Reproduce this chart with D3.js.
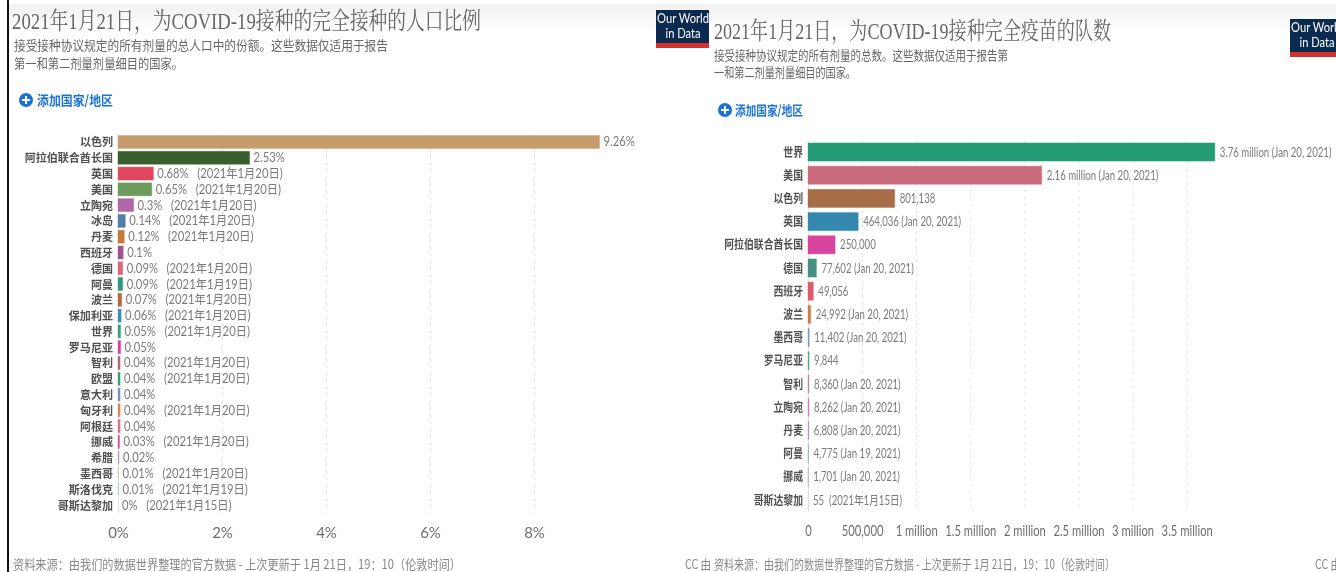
<!DOCTYPE html>
<html><head><meta charset="utf-8">
<script src="https://cdn.jsdelivr.net/npm/d3@7"></script>
<style>
html,body{margin:0;padding:0;background:#fff;overflow:hidden}
svg{display:block;filter:blur(0.45px)}
text{font-family:Lato,"Noto Sans CJK SC",sans-serif;white-space:pre}
</style></head><body>
<svg id="c" width="1336" height="572"></svg>
<script>
const shareNames=["以色列","阿拉伯联合酋长国","英国","美国","立陶宛","冰岛","丹麦","西班牙","德国","阿曼","波兰","保加利亚","世界","罗马尼亚","智利","欧盟","意大利","匈牙利","阿根廷","挪威","希腊","墨西哥","斯洛伐克","哥斯达黎加"];
const shareValues=[9.26,2.53,0.68,0.65,0.3,0.14,0.12,0.1,0.09,0.09,0.07,0.06,0.05,0.05,0.04,0.04,0.04,0.04,0.04,0.03,0.02,0.01,0.01,0];
const shareDates=["","","2021年1月20日","2021年1月20日","2021年1月20日","2021年1月20日","2021年1月20日","","2021年1月20日","2021年1月19日","2021年1月20日","2021年1月20日","2021年1月20日","","2021年1月20日","2021年1月20日","","2021年1月20日","","2021年1月20日","","2021年1月20日","2021年1月19日","2021年1月15日"];
const shareColors=["#c69c6e","#3a5f2e","#e0465c","#6f9a5e","#b066a8","#4f7ea6","#c67a35","#a0558a","#d9687f","#2a9d78","#b0683c","#3a8fb0","#3f9a80","#d93f9a","#b06a70","#3aa070","#7a93c0","#d98a5a","#e0707f","#d94f90","#b898c8","#e0b898","#9ed0c0","#cccccc"];
const shareTicks=[0,2,4,6,8];

const countNames=["世界","美国","以色列","英国","阿拉伯联合酋长国","德国","西班牙","波兰","墨西哥","罗马尼亚","智利","立陶宛","丹麦","阿曼","挪威","哥斯达黎加"];
const countValues=[3760000,2160000,801138,464036,250000,77602,49056,24992,11402,9844,8360,8262,6808,4775,1701,55];
const countDates=["Jan 20, 2021","Jan 20, 2021","","Jan 20, 2021","","Jan 20, 2021","","Jan 20, 2021","Jan 20, 2021","","Jan 20, 2021","Jan 20, 2021","Jan 20, 2021","Jan 19, 2021","Jan 20, 2021","2021年1月15日"];
const countColors=["#259b76","#cb6a7c","#a76c48","#3488ad","#d8439c","#478f80","#e05a6c","#cf7b45","#7b96c8","#47b07a","#c08088","#e070a8","#a88cc0","#70b8a0","#b89090","#cccccc"];
const countTicks=[0,500000,1000000,1500000,2000000,2500000,3000000,3500000];

const svg=d3.select("#c");
const serif='"Liberation Serif","Noto Serif CJK SC","Noto Sans CJK SC",serif';
const cjk='"Noto Sans CJK SC",sans-serif';
function put(g,o){
  const t=g.append("text").attr("x",o.x).attr("y",o.y).text(o.s)
    .attr("font-size",o.size).attr("fill",o.fill||"#777");
  if(o.family)t.style("font-family",o.family);
  if(o.weight)t.attr("font-weight",o.weight);
  if(o.w)t.attr("textLength",o.w).attr("lengthAdjust","spacingAndGlyphs");
  return t;
}
function squeeze(sel,k){
  sel.each(function(){
    this.setAttribute("textLength",this.getComputedTextLength()*k);
    this.setAttribute("lengthAdjust","spacingAndGlyphs");
  });
}
const bands=svg.append("defs").append("linearGradient").attr("id","band").attr("x1",0).attr("x2",0).attr("y1",0).attr("y2",1);
bands.append("stop").attr("offset",0).attr("stop-color","#f1f1f1");
bands.append("stop").attr("offset",1).attr("stop-color","#ffffff");
svg.append("rect").attr("x",9).attr("y",4).attr("width",1327).attr("height",28).attr("fill","url(#band)");
svg.append("rect").attr("x",7).attr("y",0).attr("width",2).attr("height",572).attr("fill","#111");

function logo(x,y,w){
  const g=svg.append("g");
  g.append("rect").attr("x",x).attr("y",y).attr("width",w).attr("height",33).attr("fill","#0b2a50");
  g.append("rect").attr("x",x).attr("y",y+33).attr("width",w).attr("height",5).attr("fill","#d3322c");
  g.append("text").attr("x",x+27).attr("y",y+13).attr("text-anchor","middle").attr("font-size",14).attr("fill","#fff").text("Our World").attr("textLength",52).attr("lengthAdjust","spacingAndGlyphs");
  g.append("text").attr("x",x+27).attr("y",y+28).attr("text-anchor","middle").attr("font-size",14).attr("fill","#fff").text("in Data").attr("textLength",35).attr("lengthAdjust","spacingAndGlyphs");
}
function addBtn(cx,cy,tx,w){
  const g=svg.append("g");
  g.append("circle").attr("cx",cx).attr("cy",cy).attr("r",7).attr("fill","#1a73d9");
  g.append("path").attr("d",`M${cx-4} ${cy}H${cx+4}M${cx} ${cy-4}V${cy+4}`).attr("stroke","#fff").attr("stroke-width",2);
  put(g,{x:tx,y:cy+5,s:"添加国家/地区",size:13,fill:"#1a73d9",family:cjk,weight:700,w});
}
function panel(o){
  const g=svg.append("g");
  const x=d3.scaleLinear().domain(o.domain).range(o.xRange);
  const y=d3.scaleBand().domain(o.names).range(o.yRange).paddingInner(o.pad).paddingOuter(o.pad/2);
  const axis=d3.axisBottom(x).tickValues(o.ticks).tickFormat(o.tickFmt).tickSize(o.yRange[1]-o.yRange[0]).tickPadding(14);
  const ax=g.append("g").attr("transform",`translate(0,${o.yRange[0]})`).call(axis);
  ax.select(".domain").remove();
  ax.selectAll(".tick line").attr("stroke","#e0e0e0").attr("stroke-dasharray",d=>d===0?null:"3,4");
  ax.selectAll(".tick text").attr("font-size",o.tickSize).attr("fill","#6e6e6e").style("font-family","Lato")
    .attr("transform",`scale(${o.tickSqueeze},1)`);
  g.selectAll("rect.b").data(o.names).join("rect").attr("class","b")
    .attr("x",x(0)).attr("y",d=>y(d))
    .attr("width",(d,i)=>x(o.values[i])-x(0)).attr("height",y.bandwidth())
    .attr("fill",(d,i)=>o.colors[i]).attr("stroke",(d,i)=>o.colors[i]).attr("stroke-opacity",0.4).attr("stroke-width",1);
  const names=g.selectAll("text.n").data(o.names).join("text").attr("class","n")
    .attr("x",x(0)-5).attr("y",d=>y(d)+y.bandwidth()/2+4.5).attr("text-anchor","end")
    .attr("font-size",o.nameSize).attr("font-weight",700).attr("fill","#505050").style("font-family",cjk).text(d=>d);
  squeeze(names,o.nameSqueeze);
  const labels=g.selectAll("text.v").data(o.names).join("text").attr("class","v")
    .attr("x",(d,i)=>x(o.values[i])+o.labelGap).attr("y",d=>y(d)+y.bandwidth()/2+4.5)
    .attr("font-size",o.labelSize).attr("fill","#7a7a7a")
    .text((d,i)=>o.labelFmt(o.values[i])+(o.dates[i]?(o.dates[i].includes("年")?o.wideSep:" ")+"("+o.dates[i]+")":""));
  squeeze(labels,o.labelSqueeze);
}
const countFmt=v=>v>=1e6?d3.format(".2f")(v/1e6)+" million":d3.format(",")(v);

put(svg,{x:12,y:29,s:"2021年1月21日，为COVID-19接种的完全接种的人口比例",size:24,fill:"#666",family:serif,w:469});
put(svg,{x:14,y:50,s:"接受接种协议规定的所有剂量的总人口中的份额。这些数据仅适用于报告",size:13,fill:"#666",family:cjk,w:374});
put(svg,{x:14,y:68,s:"第一和第二剂量剂量细目的国家。",size:13,fill:"#666",family:cjk,w:169});
logo(656,10,53);
addBtn(26,100,37,76);
panel({names:shareNames,values:shareValues,dates:shareDates,colors:shareColors,ticks:shareTicks,
  domain:[0,8],xRange:[118,534],yRange:[134.1,512.9],pad:0.18,
  tickFmt:d=>d+"%",tickSize:15,tickSqueeze:1,nameSize:11.5,nameSqueeze:0.96,labelSize:12.5,labelSqueeze:0.9,labelGap:4,wideSep:"   ",
  labelFmt:v=>v+"%"});
put(svg,{x:13,y:569,s:"资料来源：由我们的数据世界整理的官方数据 - 上次更新于 1月 21日，19：10（伦敦时间）",size:13,fill:"#888",family:cjk,w:448});

put(svg,{x:714,y:39,s:"2021年1月21日，为COVID-19接种完全疫苗的队数",size:24,fill:"#666",family:serif,w:397});
put(svg,{x:714,y:60,s:"接受接种协议规定的所有剂量的总数。这些数据仅适用于报告第",size:13,fill:"#666",family:cjk,w:294});
put(svg,{x:714,y:77,s:"一和第二剂量剂量细目的国家。",size:13,fill:"#666",family:cjk,w:142});
logo(1290,19,52);
addBtn(725,110,735,68);
panel({names:countNames,values:countValues,dates:countDates,colors:countColors,ticks:countTicks,
  domain:[0,3500000],xRange:[808,1186.7],yRange:[140.4,511.6],pad:0.22,
  tickFmt:d=>d===0?"0":d===500000?"500,000":(d/1e6)+" million",tickSize:15,tickSqueeze:0.75,nameSize:12,nameSqueeze:0.82,labelSize:12.5,labelSqueeze:0.77,labelGap:5,wideSep:"  ",
  labelFmt:countFmt});
put(svg,{x:685,y:569,s:"CC 由",size:13,fill:"#888",family:cjk,w:26});
put(svg,{x:714,y:569,s:"资料来源：由我们的数据世界整理的官方数据 - 上次更新于 1月 21日，19：10（伦敦时间）",size:13,fill:"#888",family:cjk,w:401});
put(svg,{x:1315,y:569,s:"CC 由",size:13,fill:"#888",family:cjk,w:26});
</script>
</body></html>
